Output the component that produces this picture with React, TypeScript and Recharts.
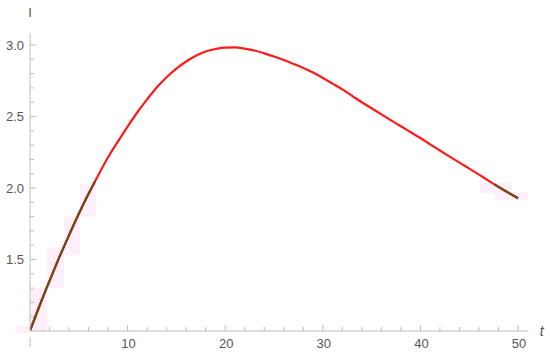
import { LineChart, Line, XAxis, YAxis, ReferenceArea, Label } from 'recharts';

// curve values
const tValues = [0, 1, 2, 3, 4, 5, 6, 7, 8, 9, 10, 11, 12, 13, 14, 15, 16, 17, 18, 19, 20, 21, 22, 23, 24, 25,
  26, 27, 28, 29, 30, 31, 32, 33, 34, 35, 36, 37, 38, 39, 40, 41, 42, 43, 44, 45, 46, 47, 48, 49, 50];
const iValues = [1.0, 1.18, 1.35, 1.515, 1.67, 1.82, 1.96, 2.09, 2.215, 2.325, 2.43, 2.53, 2.62, 2.705, 2.775,
  2.835, 2.885, 2.925, 2.955, 2.972, 2.982, 2.983, 2.975, 2.962, 2.942, 2.92, 2.895, 2.868, 2.84, 2.808, 2.77,
  2.73, 2.69, 2.645, 2.6, 2.558, 2.515, 2.473, 2.432, 2.39, 2.35, 2.305, 2.262, 2.22, 2.178, 2.136, 2.094,
  2.05, 2.008, 1.968, 1.928];

// darker pieces at both ends
const startT = [0, 1, 2, 3, 4, 5, 6, 6.66];
const startI = [1.0, 1.18, 1.35, 1.515, 1.67, 1.82, 1.96, 2.046];
const endT = [47.6, 48, 49, 50];
const endI = [2.025, 2.008, 1.968, 1.928];

// faint boxes along the curve: [t1, t2, i1, i2]
const boxes = [
  [-1.5, 0, 0.986, 1.035],
  [0, 1.75, 1.0, 1.3],
  [1.75, 3.5, 1.3, 1.58],
  [3.5, 5.1, 1.53, 1.8],
  [5.1, 6.8, 1.8, 2.03],
  [46.1, 49.4, 1.965, 2.035],
  [47.6, 51.0, 1.916, 1.972],
];

const xTicks = [0, 2, 4, 6, 8, 10, 12, 14, 16, 18, 20, 22, 24, 26, 28, 30, 32, 34, 36, 38, 40, 42, 44, 46, 48, 50];
const xLabels = [10, 20, 30, 40, 50];
const yTicks = [1.1, 1.2, 1.3, 1.4, 1.5, 1.6, 1.7, 1.8, 1.9, 2.0, 2.1, 2.2, 2.3, 2.4, 2.5, 2.6, 2.7, 2.8, 2.9, 3.0];
const yLabels = [1.5, 2.0, 2.5, 3.0];

const curve = tValues.map((t, i) => ({ t, I: iValues[i] }));
const startPart = startT.map((t, i) => ({ t, I: startI[i] }));
const endPart = endT.map((t, i) => ({ t, I: endI[i] }));

const font = 'Liberation Sans, Arial, sans-serif';
const textColor = '#555';
const axisColor = '#bbb';

const XTick = (props: any) => {
  const { x, y, payload } = props;
  const v = payload.value;
  if (v === 0) {
    return <line x1={x} x2={x} y1={y + 6} y2={y + 16} stroke={axisColor} />;
  }
  const major = xLabels.includes(v);
  return (
    <g>
      <line x1={x} x2={x} y1={y} y2={y - (major ? 6 : 4)} stroke={axisColor} />
      {major && (
        <text x={x + 1} y={y + 17} textAnchor="middle" fill={textColor} fontSize={13} fontFamily={font}>
          {v}
        </text>
      )}
    </g>
  );
};

const YTick = (props: any) => {
  const { x, y, payload } = props;
  const v = payload.value;
  const major = yLabels.some(l => Math.abs(l - v) < 1e-6);
  return (
    <g>
      <line x1={x} x2={x + (major ? 6 : 4)} y1={y} y2={y} stroke={axisColor} />
      {major && (
        <text x={x - 6} y={y + 4.5} textAnchor="end" fill={textColor} fontSize={13} fontFamily={font}>
          {v.toFixed(1)}
        </text>
      )}
    </g>
  );
};

export default function App() {
  return (
    <div style={{ position: 'absolute', left: 0, top: 0, background: '#fff' }}>
      <LineChart width={550} height={353} margin={{ top: 33.6, right: 22.2, bottom: 0, left: 0 }}>
        <XAxis
          type="number"
          dataKey="t"
          domain={[0, 51]}
          ticks={xTicks}
          interval={0}
          tick={<XTick />}
          tickLine={false}
          tickSize={0}
          tickMargin={0}
          height={22}
          axisLine={{ stroke: axisColor }}
          allowDataOverflow
        >
          <Label
            content={(p: any) => (
              <text
                x={p.viewBox.x + p.viewBox.width + 14}
                y={p.viewBox.y + 5}
                textAnchor="middle"
                fill={textColor}
                fontSize={14}
                fontStyle="italic"
                fontFamily={font}
              >
                t
              </text>
            )}
          />
        </XAxis>
        <YAxis
          type="number"
          dataKey="I"
          domain={[1, 3.08]}
          ticks={yTicks}
          interval={0}
          tick={<YTick />}
          tickLine={false}
          tickSize={0}
          tickMargin={0}
          width={30}
          axisLine={{ stroke: axisColor }}
          allowDataOverflow
        >
          <Label
            content={(p: any) => (
              <text
                x={p.viewBox.x + p.viewBox.width}
                y={p.viewBox.y - 16.5}
                textAnchor="middle"
                style={{ fill: textColor }}
                fontSize={13}
                fontFamily={font}
              >
                I
              </text>
            )}
          />
        </YAxis>
        {boxes.map((b, i) => (
          <ReferenceArea
            key={i}
            x1={b[0]}
            x2={b[1]}
            y1={b[2]}
            y2={b[3]}
            fill="#fdeffc"
            fillOpacity={1}
            stroke="none"
            ifOverflow="visible"
          />
        ))}
        <Line
          data={curve}
          dataKey="I"
          type="monotone"
          stroke="#ff1a1a"
          strokeWidth={2.2}
          dot={false}
          isAnimationActive={false}
        />
        <Line
          data={startPart}
          dataKey="I"
          type="monotone"
          stroke="#6e4a12"
          strokeWidth={2.2}
          dot={false}
          isAnimationActive={false}
        />
        <Line
          data={endPart}
          dataKey="I"
          type="monotone"
          stroke="#6e4a12"
          strokeWidth={2.2}
          dot={false}
          isAnimationActive={false}
        />
      </LineChart>
    </div>
  );
}
